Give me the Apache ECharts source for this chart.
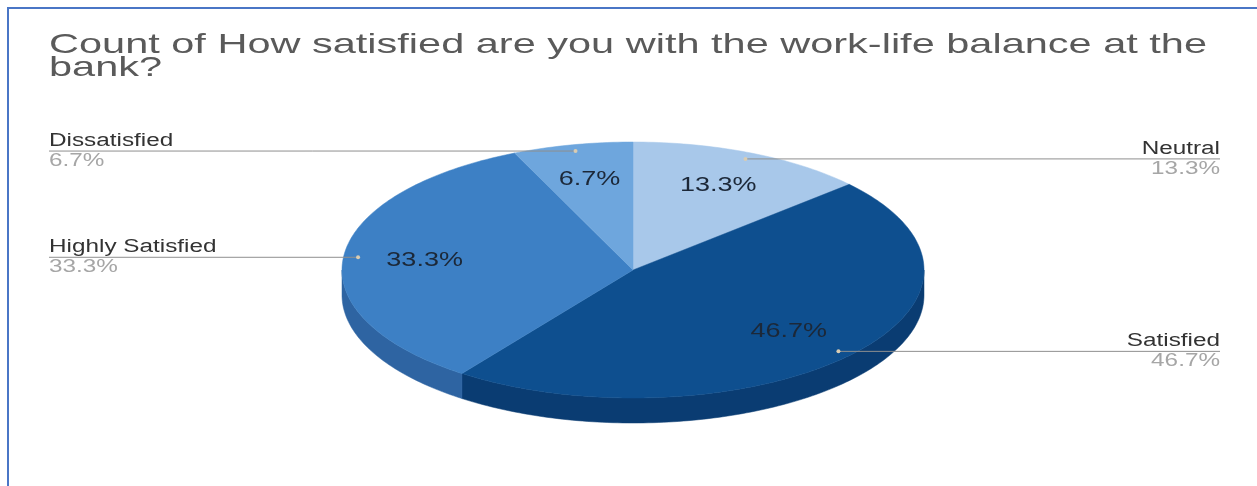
<!DOCTYPE html>
<html>
<head>
<meta charset="utf-8">
<script src="https://cdn.jsdelivr.net/npm/echarts@6/dist/echarts.min.js"></script>
<style>
  html, body { margin: 0; padding: 0; background: #ffffff; }
  #chart { width: 1257px; height: 486px; }
</style>
</head>
<body>
<div id="chart"></div>
<script>
// Survey answers and their response counts
const categories = ['Neutral', 'Satisfied', 'Highly Satisfied', 'Dissatisfied'];
const counts = [2, 7, 5, 1];
const titleLines = ['Count of How satisfied are you with the work-life balance at the', 'bank?'];

// Styling
const TOP_COLORS = ['#a8c8ea', '#0e4f8f', '#3d80c5', '#6ea6dd'];
const SIDE_COLORS = ['#88a8cc', '#0a3c72', '#2e64a2', '#5689bf'];
const FONT = '"Liberation Sans", Arial, Helvetica, sans-serif';
const STRETCH = 1.35;                       // horizontal text stretch
const PIE = { cx: 633, cy: 270, rx: 291, ry: 128, depth: 25 };

const total = counts.reduce((s, v) => s + v, 0);
const startAngles = [];
(function () {
  let acc = 0;
  counts.forEach(v => { startAngles.push(acc / total * Math.PI * 2); acc += v; });
})();

// point on the tilted disc, angle measured clockwise from 12 o'clock
function pt(t, f) {
  return [PIE.cx + PIE.rx * f * Math.sin(t), PIE.cy - PIE.ry * f * Math.cos(t)];
}
function arc(a, b, f, dy) {
  const n = Math.max(2, Math.ceil((b - a) / (Math.PI / 180)));
  const out = [];
  for (let k = 0; k <= n; k++) {
    const p = pt(a + (b - a) * k / n, f);
    out.push([p[0], p[1] + dy]);
  }
  return out;
}
function sliceRange(i, v) {
  const a = startAngles[i];
  return [a, a + v / total * Math.PI * 2];
}

function renderWall(params, api) {
  const i = params.dataIndex;
  const [a, b] = sliceRange(i, api.value(0));
  const s = Math.max(a, Math.PI / 2), e = Math.min(b, Math.PI * 1.5);
  if (e <= s) return;
  const pts = arc(s, e, 1, 0).concat(arc(s, e, 1, PIE.depth).reverse());
  return {
    type: 'polygon',
    shape: { points: pts },
    style: { fill: SIDE_COLORS[i], stroke: SIDE_COLORS[i], lineWidth: 0.5 }
  };
}

function renderFace(params, api) {
  const i = params.dataIndex;
  const [a, b] = sliceRange(i, api.value(0));
  const pts = [[PIE.cx, PIE.cy]].concat(arc(a, b, 1, 0));
  return {
    type: 'polygon',
    shape: { points: pts },
    style: { fill: TOP_COLORS[i], stroke: TOP_COLORS[i], lineWidth: 0.5 }
  };
}

function txt(x, y, text, size, color, align, vAlign, sx) {
  return {
    type: 'text', x: x, y: y, scaleX: sx || STRETCH,
    style: {
      text: text, fill: color, font: size + 'px ' + FONT,
      align: align, verticalAlign: vAlign,
      textAlign: align, textVerticalAlign: vAlign
    }
  };
}

function renderLabel(params, api) {
  const i = params.dataIndex;
  const v = api.value(0);
  const [a, b] = sliceRange(i, v);
  const m = (a + b) / 2;
  const pct = (v / total * 100).toFixed(1) + '%';
  const inner = pt(m, 0.72);
  const anchor = pt(m, 0.95);
  const left = Math.sin(m) < 0;
  const edge = left ? 49 : api.getWidth() - 37;
  const align = left ? 'left' : 'right';
  return {
    type: 'group',
    children: [
      txt(inner[0], inner[1], pct, 20, '#1c2838', 'center', 'middle'),
      {
        type: 'line',
        shape: { x1: edge, y1: anchor[1], x2: anchor[0], y2: anchor[1] },
        style: { stroke: '#8f8f8f', lineWidth: 1 }
      },
      {
        type: 'circle',
        shape: { cx: anchor[0], cy: anchor[1], r: 2 },
        style: { fill: '#d9ccb2' }
      },
      txt(edge, anchor[1] - 1, categories[i], 18, '#333333', align, 'bottom'),
      txt(edge, anchor[1] + 1, pct, 18, '#a6a6a6', align, 'top')
    ]
  };
}

// horizontal scale for the title so its first line spans the header width
const measureCtx = document.createElement('canvas').getContext('2d');
measureCtx.font = '28px ' + FONT;
const titleScale = 1158 / measureCtx.measureText(titleLines[0]).width;

const seriesData = categories.map((name, i) => ({ name: name, value: counts[i] }));

const chart = echarts.init(document.getElementById('chart'), null, { renderer: 'canvas' });
chart.setOption({
  backgroundColor: '#ffffff',
  animation: false,
  graphic: [
    {
      type: 'polyline',
      shape: { points: [[8, 486], [8, 8], [1257, 8]] },
      style: { stroke: '#4a76c6', lineWidth: 2, fill: null },
      silent: true
    },
    {
      type: 'text', x: 49, y: 34, scaleX: titleScale,
      style: {
        text: titleLines.join('\n'), fill: '#5a5a5a', font: '28px ' + FONT,
        lineHeight: 23, align: 'left', verticalAlign: 'top',
        textAlign: 'left', textVerticalAlign: 'top'
      },
      silent: true
    }
  ],
  series: [
    { type: 'custom', coordinateSystem: 'none', renderItem: renderWall, data: seriesData, z: 1, silent: true },
    { type: 'custom', coordinateSystem: 'none', renderItem: renderFace, data: seriesData, z: 2, silent: true },
    { type: 'custom', coordinateSystem: 'none', renderItem: renderLabel, data: seriesData, z: 3, silent: true }
  ]
});
</script>
</body>
</html>
